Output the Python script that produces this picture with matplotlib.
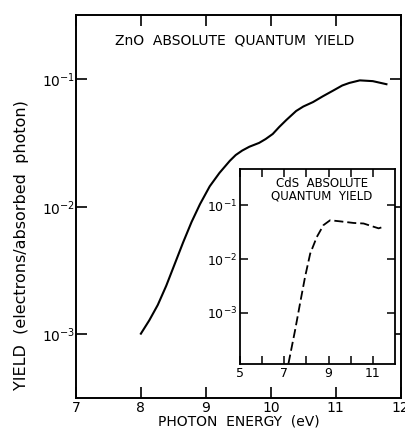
import numpy as np
import matplotlib.pyplot as plt
from matplotlib.ticker import FixedLocator, NullLocator

# ZnO yield curve (photon energy in eV, log10 of electrons/absorbed photon)
zno_energy = [8.00, 8.13, 8.26, 8.39, 8.52, 8.65, 8.78, 8.91, 9.06, 9.21,
              9.37, 9.46, 9.56, 9.67, 9.82, 9.92, 10.03, 10.13, 10.24, 10.39,
              10.50, 10.65, 10.80, 10.96, 11.10, 11.21, 11.37, 11.57, 11.78]
zno_log_yield = [-2.995, -2.89, -2.77, -2.62, -2.45, -2.28, -2.12, -1.98,
                 -1.84, -1.735, -1.64, -1.595, -1.56, -1.53, -1.50, -1.47,
                 -1.43, -1.375, -1.32, -1.25, -1.215, -1.18, -1.135, -1.09,
                 -1.05, -1.03, -1.01, -1.016, -1.04]

# CdS yield curve for the inset
cds_energy = [7.19, 7.49, 7.71, 7.94, 8.17, 8.47, 8.77, 9.07, 9.52, 10.13,
              10.58, 11.03, 11.26, 11.48]
cds_log_yield = [-3.94, -3.32, -2.83, -2.33, -1.90, -1.59, -1.37, -1.28,
                 -1.30, -1.33, -1.34, -1.40, -1.43, -1.40]

main_xticks = [7, 8, 9, 10, 11, 12]
main_yticks = [1e-3, 1e-2, 1e-1]
ytick_labels = [r'$10^{-3}$', r'$10^{-2}$', r'$10^{-1}$']
inset_xticks = [5, 6, 7, 8, 9, 10, 11]
inset_xlabels = ['5', '', '7', '', '9', '', '11']

plt.rcParams['font.family'] = 'DejaVu Sans'
plt.rcParams['mathtext.fontset'] = 'dejavusans'

fig = plt.figure(figsize=(4.06, 4.37), dpi=100)
ax = fig.add_axes([0.187, 0.089, 0.800, 0.876])

ax.plot(zno_energy, 10 ** np.array(zno_log_yield), color='black', lw=1.5)
ax.set_yscale('log')
ax.set_xlim(7, 12)
ax.set_ylim(10 ** -3.5, 10 ** -0.5)

ax.xaxis.set_major_locator(FixedLocator(main_xticks))
ax.set_xticklabels([str(t) for t in main_xticks])
ax.yaxis.set_major_locator(FixedLocator(main_yticks))
ax.yaxis.set_minor_locator(NullLocator())
ax.set_yticklabels(ytick_labels)
ax.tick_params(direction='in', top=True, right=True, length=8, width=1.2,
               labelsize=10, pad=2)
ax.tick_params(axis='y', pad=0.5)
for s in ax.spines.values():
    s.set_linewidth(1.4)

ax.text(0.49, 0.935, 'ZnO  ABSOLUTE  QUANTUM  YIELD', transform=ax.transAxes,
        ha='center', va='center', fontsize=10)
ax.set_xlabel('PHOTON  ENERGY  (eV)', fontsize=10, labelpad=0)
fig.text(22 / 406, 1 - 245 / 437, 'YIELD  (electrons/absorbed  photon)',
         rotation=90, ha='center', va='center', fontsize=11.5)

# inset: CdS
ins = fig.add_axes([0.591, 0.167, 0.382, 0.446])
ins.plot(cds_energy, 10 ** np.array(cds_log_yield), color='black', lw=1.3,
         dashes=(5, 2.2))
ins.set_yscale('log')
ins.set_xlim(5, 12)
ins.set_ylim(10 ** -3.95, 10 ** -0.33)
ins.xaxis.set_major_locator(FixedLocator(inset_xticks))
ins.set_xticklabels(inset_xlabels)
ins.yaxis.set_major_locator(FixedLocator(main_yticks))
ins.yaxis.set_minor_locator(NullLocator())
ins.set_yticklabels(ytick_labels)
ins.tick_params(direction='in', top=True, right=True, length=6, width=1.1,
                labelsize=9, pad=2)
for s in ins.spines.values():
    s.set_linewidth(1.3)
ins.text(0.53, 0.895, 'CdS  ABSOLUTE\nQUANTUM  YIELD', transform=ins.transAxes,
         ha='center', va='center', fontsize=8.5, linespacing=0.9)

fig.savefig('out.png', dpi=100)
